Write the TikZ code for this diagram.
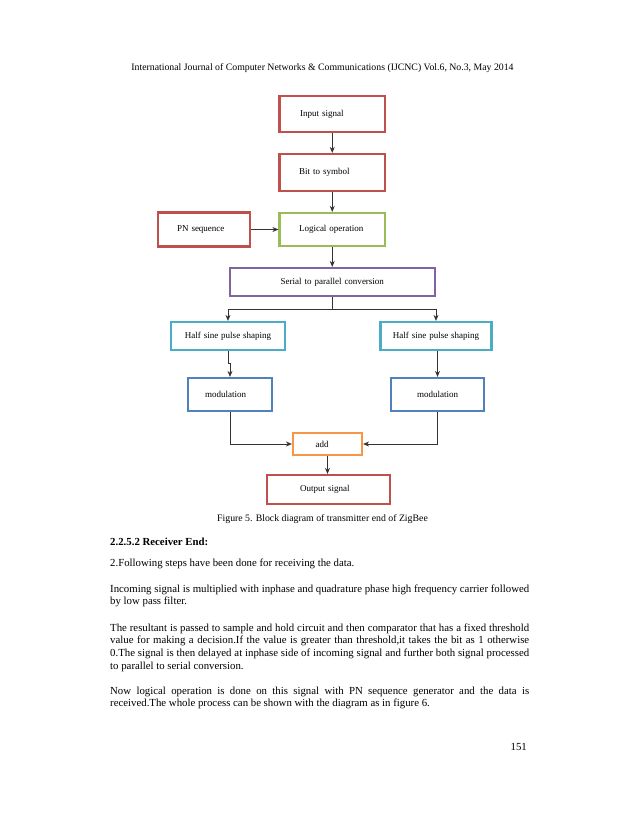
\documentclass[tikz,border=0pt]{standalone}
\usepackage{fontspec}
\setmainfont{Liberation Serif}
\usepackage{xcolor}
\usepackage{tikz}
\usetikzlibrary{arrows.meta}
\definecolor{ored}{HTML}{C0504D}
\definecolor{ogreen}{HTML}{9BBB59}
\definecolor{opurple}{HTML}{8064A2}
\definecolor{ocyan}{HTML}{4BACC6}
\definecolor{oblue}{HTML}{4F81BD}
\definecolor{oorange}{HTML}{F79646}
\tikzstyle{block} = [rectangle, line width=2.2pt, inner ysep=0pt, align=left, font=\fontsize{9}{10}\selectfont]
\tikzstyle{arrow} = [line width=0.7pt, draw=black!80, ->, >={Stealth[length=6pt,width=5pt]}]
\tikzstyle{para}  = [anchor=base west, inner sep=0pt, align=left, font=\fontsize{10.8}{12.7}\selectfont]
\tikzstyle{note}  = [anchor=base, inner sep=0pt, font=\fontsize{9.8}{12}\selectfont]
\newcommand{\jl}[1]{\makebox[419pt][s]{#1}}

\begin{document}
\begin{tikzpicture}[x=1pt, y=-1pt]
    \useasboundingbox (0,0) rectangle (638,826);
    \node (hdr) [note] at (322.5,71) {International Journal of Computer Networks \& Communications (IJCNC) Vol.6, No.3, May 2014};

    \node (inp) [block, draw=ored,    inner xsep=20.5pt, text width=64.5pt, minimum height=36pt] at (332.25,114)  {Input signal};
    \node (bit) [block, draw=ored,    inner xsep=19.5pt, text width=66.5pt, minimum height=37pt] at (332.25,172.5){Bit to symbol};
    \node (log) [block, draw=ogreen,  inner xsep=19.5pt, text width=66.5pt, minimum height=33pt] at (332.25,229.5){Logical operation};
    \node (pn)  [block, draw=ored,    inner xsep=19pt,   text width=54pt,   minimum height=34pt] at (204,229.5)   {PN sequence};
    \node (ser) [block, draw=opurple, inner xsep=10pt,   text width=185pt,  minimum height=28pt, align=center] at (332.25,282) {Serial to parallel conversion};
    \node (hl)  [block, draw=ocyan,   inner xsep=10pt,   text width=94pt,   minimum height=28pt, align=center] at (228,336)   {Half sine pulse shaping};
    \node (hr)  [block, draw=ocyan,   inner xsep=10pt,   text width=91pt,   minimum height=28pt, align=center] at (436,336)   {Half sine pulse shaping};
    \node (ml)  [block, draw=oblue,   inner xsep=17pt,   text width=50pt,   minimum height=33pt] at (230,394.5)   {modulation};
    \node (mr)  [block, draw=oblue,   inner xsep=10pt,   text width=73pt,   minimum height=33pt, align=center] at (437.5,394.5) {modulation};
    \node (add) [block, draw=oorange, inner xsep=22.5pt, text width=24pt,   minimum height=22pt] at (327.5,444)   {add};
    \node (out) [block, draw=ored,    inner xsep=33pt,   text width=57pt,   minimum height=29pt] at (328.5,489.5) {Output signal};
    \coordinate (spl) at (332.25,309);

    \draw [arrow] (inp) -- (bit);
    \draw [arrow] (bit) -- (log);
    \draw [arrow] (pn.east) -- (pn.east -| log.west);
    \draw [arrow] (log) -- (ser);
    \draw [arrow, -] (ser.south) -- (spl);
    \draw [arrow] (spl) -| (hl.north);
    \draw [arrow] (spl) -| (hr.north);
    \draw [arrow] (hl.south) -- ++(0,12) -| (ml.north);
    \draw [arrow] (mr.north |- hr.south) -- (mr.north);
    \draw [arrow] (ml.south) |- (add.west);
    \draw [arrow] (mr.south) |- (add.east);
    \draw [arrow] (add.south) -- (add.south |- out.north);

    \node (cap) [note] at (322.5,521) {Figure 5. Block diagram of transmitter end of ZigBee};

    \node (sec) [para, font=\fontsize{10.8}{12.7}\selectfont\bfseries] at (110,545) {2.2.5.2 Receiver End:};
    \node (p1)  [para] at (110,566) {2.Following steps have been done for receiving the data.};
    \node (p2)  [para] at (110,604.7) {\jl{Incoming signal is multiplied with inphase and quadrature phase high frequency carrier followed}\\by low pass filter.};
    \node (p3)  [para] at (110,669.1) {\jl{The resultant is passed to sample and hold circuit and then comparator that has a fixed threshold}\\
        \jl{value for making a decision.If the value is greater than threshold,it takes the bit as 1 otherwise}\\
        \jl{0.The signal is then delayed at inphase side of incoming signal and further both signal processed}\\
        to parallel to serial conversion.};
    \node (p4)  [para] at (110,706.7) {\jl{Now logical operation is done on this signal with PN sequence generator and the data is}\\
        received.The whole process can be shown with the diagram as in figure 6.};
    \node (pg)  [para, anchor=base east] at (527,750) {151};
\end{tikzpicture}
\end{document}
